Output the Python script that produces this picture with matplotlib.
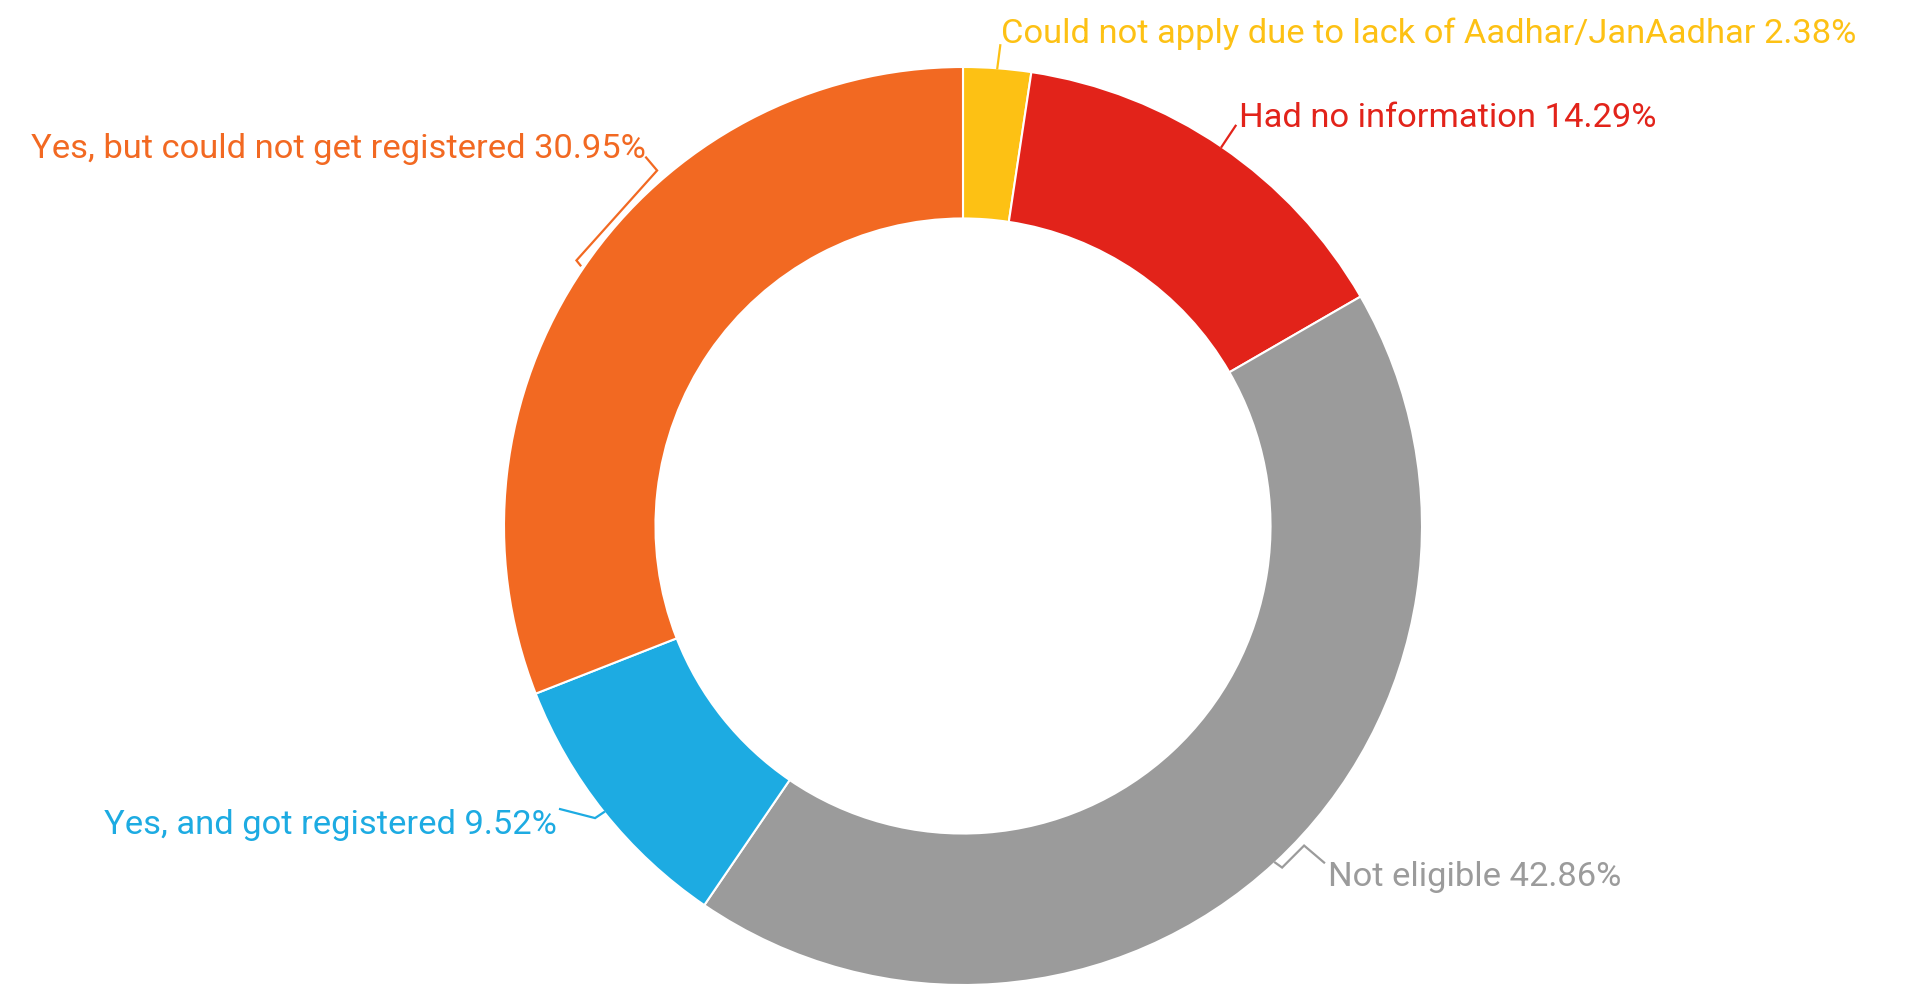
import numpy as np
import matplotlib.pyplot as plt

labels = ["Could not apply due to lack of Aadhar/JanAadhar", "Had no information",
          "Not eligible", "Yes, and got registered", "Yes, but could not get registered"]
shares = [2.38, 14.29, 42.86, 9.52, 30.95]
colors = ["#FDC114", "#E2231A", "#9B9B9B", "#1DABE2", "#F26922"]

W, H = 1905, 984
plt.rcParams['font.family'] = ['Roboto', 'DejaVu Sans']

fig = plt.figure(figsize=(W / 100, H / 100), dpi=100)
ax = fig.add_axes([0, 0, 1, 1])

# pixel-like coordinates, y up
cx, cy, R = 963, H - 526, 459
wedges, _ = ax.pie(shares, colors=colors, startangle=90, counterclock=False,
                   center=(cx, cy), radius=R, frame=True,
                   wedgeprops=dict(width=R * 0.33, edgecolor='white', linewidth=1.5))
ax.set_xlim(0, W)
ax.set_ylim(0, H)
ax.set_aspect('equal')
ax.axis('off')


def polar(r, deg):
    t = np.deg2rad(deg)
    return np.array([cx + r * np.cos(t), cy + r * np.sin(t)])


# label text placement (x, y from top, alignment)
text_pos = [(1001, 34, 'left'), (1239, 118, 'left'), (1328, 877, 'left'),
            (557, 825, 'right'), (646, 149, 'right')]
# leader elbows relative to the anchor on the outer edge
elbows = [[(3, 23)], [(14, 21)], [(7, -5), (29, 17), (49, 0)],
          [(-9, -6), (-44, 3)], None]

for i, w in enumerate(wedges):
    mid = (w.theta1 + w.theta2) / 2
    if elbows[i] is None:
        # bracket hugging the arc, running from the mid angle upwards
        p_low = polar(R + 10, mid - 0.2)
        p_up = polar(R + 10, mid - 15)
        pts = [p_low + (4, -5), p_low, p_up, p_up + (-11, 13)]
    else:
        a = polar(R, mid)
        pts = [a] + [a + np.array(o) for o in elbows[i]]
    pts = np.array(pts)
    ax.plot(pts[:, 0], pts[:, 1], color=colors[i], lw=1.6, solid_joinstyle='miter')
    x, y, ha = text_pos[i]
    ax.text(x, H - y, f"{labels[i]} {shares[i]:.2f}%", color=colors[i],
            fontsize=24.8, ha=ha, va='center')

fig.savefig('out.png', dpi=100, facecolor='white')
